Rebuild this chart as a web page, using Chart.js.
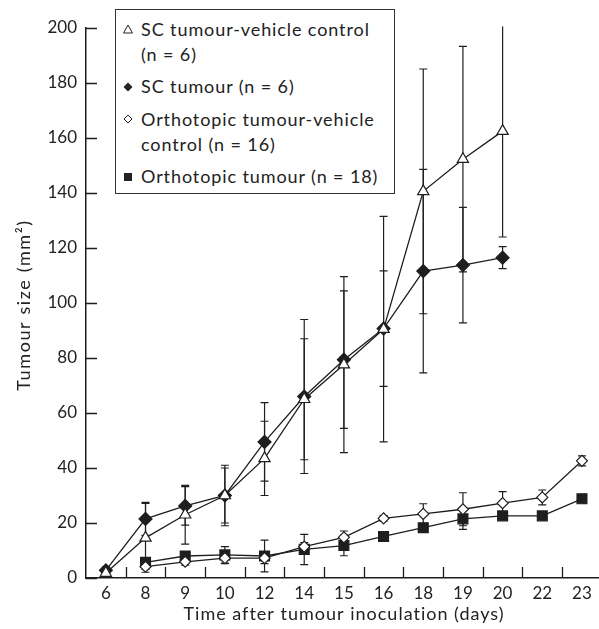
<!DOCTYPE html>
<html>
<head>
<meta charset="utf-8">
<script src="https://cdn.jsdelivr.net/npm/chart.js@4.4.0/dist/chart.umd.min.js"></script>
<style>
  html, body { margin: 0; padding: 0; background: #fff; overflow: hidden; }
  #wrap { position: relative; width: 610px; height: 629px; }
  #legend {
    position: absolute; left: 115px; top: 9px; width: 280px; height: 185px;
    box-sizing: border-box; border: 1px solid #333; background: #fff;
    font-family: Lato, sans-serif; font-size: 18px; letter-spacing: 0.9px; color: #222; padding-top: 6.5px;
  }
  .item { position: relative; padding-left: 25px; line-height: 25px; margin-bottom: 7.5px; white-space: nowrap; }
  .item svg { position: absolute; left: 7px; top: 7.5px; }
</style>
</head>
<body>
<div id="wrap">
  <canvas id="chart" width="610" height="629"></canvas>
  <div id="legend"></div>
</div>
<script>
// days after inoculation (category axis, equally spaced)
const days = ['6', '8', '9', '10', '12', '14', '15', '16', '18', '19', '20', '22', '23'];

// SC tumour-vehicle control (open triangle)
const scVehicle    = [1.8, 14.6, 23, 30, 43.5, 65, 77.6, 90.5, 140.6, 152.3, 162.5, null, null];
const scVehicleErr = [1, 12.5, 10.7, 11, 13.5, 22, 32, 41, 44.5, 41, 38.5, null, null];

// SC tumour (filled diamond)
const scTumour    = [2.8, 21.5, 26.2, 30, 49.5, 66, 79.4, 90.7, 111.6, 113.8, 116.5, null, null];
const scTumourErr = [1.2, 6, 7, 10, 14.3, 28, 25, 21, 37, 21, 4, null, null];

// orthotopic tumour-vehicle control (open diamond)
const orthoVehicle    = [null, 4.1, 5.9, 7.2, 7.2, 11.4, 14.8, 21.7, 23.3, 25.0, 27.2, 29.3, 42.6];
const orthoVehicleErr = [null, 1, 1.2, 2, 2, 1.5, 2.3, 1, 3.7, 6, 4.2, 2.7, 1.8];

// orthotopic tumour (filled square)
const orthoTumour    = [null, 5.7, 8.0, 8.4, 8.0, 10.4, 11.8, 15.1, 18.3, 21.5, 22.6, 22.6, 28.8];
const orthoTumourErr = [null, 1.5, 1.5, 3, 5.8, 5.5, 3.7, 0.8, 1, 3.8, 1, 1, 1];

const yTicks = [0, 20, 40, 60, 80, 100, 120, 140, 160, 180, 200];

const ink = '#1e1e1e';
const fontFam = 'Lato, sans-serif';

Chart.defaults.font.family = fontFam;
Chart.defaults.font.size = 17;
Chart.defaults.color = '#222';

function serie(label, data, errors, style, radius, filled) {
  return {
    label: label, data: data, errors: errors,
    borderColor: ink, borderWidth: 1.3,
    pointStyle: style, pointRadius: radius, pointHoverRadius: radius,
    pointBackgroundColor: filled ? ink : '#fff', pointBorderColor: ink, pointBorderWidth: 1.2,
    fill: false, tension: 0, spanGaps: false
  };
}

// error bars drawn under the markers
const errorBars = {
  id: 'errorBars',
  beforeDatasetsDraw(chart) {
    const { ctx, chartArea, scales: { x, y } } = chart;
    ctx.save();
    ctx.beginPath();
    ctx.rect(chartArea.left, chartArea.top - 1.5, chartArea.width, chartArea.height + 1.5);
    ctx.clip();
    ctx.strokeStyle = ink;
    ctx.lineWidth = 1.2;
    chart.data.datasets.forEach(ds => {
      ds.data.forEach((v, i) => {
        const e = ds.errors[i];
        if (v == null || !e) return;
        const px = x.getPixelForValue(i);
        const top = y.getPixelForValue(v + e);
        const bot = y.getPixelForValue(v - e);
        ctx.beginPath();
        ctx.moveTo(px, top); ctx.lineTo(px, bot);
        ctx.moveTo(px - 4, top); ctx.lineTo(px + 4, top);
        ctx.moveTo(px - 4, bot); ctx.lineTo(px + 4, bot);
        ctx.stroke();
      });
    });
    ctx.restore();
  }
};

// inward tick marks and axis titles
const axisDecor = {
  id: 'axisDecor',
  afterDraw(chart) {
    const { ctx, chartArea, scales: { x, y } } = chart;
    ctx.save();
    ctx.strokeStyle = ink;
    ctx.lineWidth = 1.3;
    ctx.beginPath();
    yTicks.forEach(t => {
      const py = Math.round(y.getPixelForValue(t)) + 0.5;
      ctx.moveTo(chartArea.left, py); ctx.lineTo(chartArea.left + 11, py);
    });
    const half = (x.getPixelForValue(1) - x.getPixelForValue(0)) / 2;
    days.forEach((d, i) => {
      const px = Math.round(x.getPixelForValue(i) + half) + 0.5;
      ctx.moveTo(px, chartArea.bottom); ctx.lineTo(px, chartArea.bottom - 11);
    });
    ctx.stroke();

    ctx.fillStyle = '#222';
    ctx.font = '18px ' + fontFam;
    ctx.textAlign = 'center';
    ctx.textBaseline = 'middle';
    ctx.letterSpacing = '1px';
    ctx.fillText('Time after tumour inoculation (days)', 344, 614);
    ctx.translate(24, 305);
    ctx.rotate(-Math.PI / 2);
    ctx.letterSpacing = '1.6px';
    ctx.fillText('Tumour size (mm\u00b2)', 0, 0);
    ctx.restore();
  }
};

const chart = new Chart(document.getElementById('chart'), {
  type: 'line',
  data: {
    labels: days,
    datasets: [
      serie(['SC tumour-vehicle control', '(n = 6)'], scVehicle, scVehicleErr, 'triangle', 6.5, false),
      serie(['SC tumour (n = 6)'], scTumour, scTumourErr, 'rectRot', 6.5, true),
      serie(['Orthotopic tumour-vehicle', 'control (n = 16)'], orthoVehicle, orthoVehicleErr, 'rectRot', 5.5, false),
      serie(['Orthotopic tumour (n = 18)'], orthoTumour, orthoTumourErr, 'rect', 7, true)
    ]
  },
  options: {
    responsive: false,
    animation: false,
    devicePixelRatio: 1,
    layout: { padding: { top: 28, left: 0, right: 4, bottom: 0 } },
    plugins: { legend: { display: false }, tooltip: { enabled: false } },
    scales: {
      x: {
        type: 'category',
        offset: true,
        grid: { display: false, drawTicks: false },
        border: { display: true, color: ink, width: 1.5 },
        ticks: { padding: 5, color: '#222', maxRotation: 0, autoSkip: false },
        afterFit: s => { s.height = 51; }
      },
      y: {
        min: 0, max: 200,
        grid: { display: false, drawTicks: false },
        border: { display: true, color: ink, width: 1.5 },
        ticks: { stepSize: 20, padding: 9, color: '#222' },
        afterFit: s => { s.width = 86; }
      }
    }
  },
  plugins: [errorBars, axisDecor]
});

// legend built from the datasets
const symbols = {
  triangle: '<polygon points="5,1 9.5,9 0.5,9" fill="#fff" stroke="#222" stroke-width="1"/>',
  rectRotFilled: '<polygon points="5,0.5 9.5,5 5,9.5 0.5,5" fill="#222"/>',
  rectRotOpen: '<polygon points="5,1 9,5 5,9 1,5" fill="#fff" stroke="#222" stroke-width="1"/>',
  rect: '<rect x="1" y="1" width="8" height="8" fill="#222"/>'
};
const legendEl = document.getElementById('legend');
chart.data.datasets.forEach(ds => {
  let key = ds.pointStyle;
  if (key === 'rectRot') key = ds.pointBackgroundColor === '#fff' ? 'rectRotOpen' : 'rectRotFilled';
  const div = document.createElement('div');
  div.className = 'item';
  div.innerHTML = '<svg width="10" height="10">' + symbols[key] + '</svg>' + ds.label.join('<br>');
  legendEl.appendChild(div);
});
</script>
</body>
</html>
